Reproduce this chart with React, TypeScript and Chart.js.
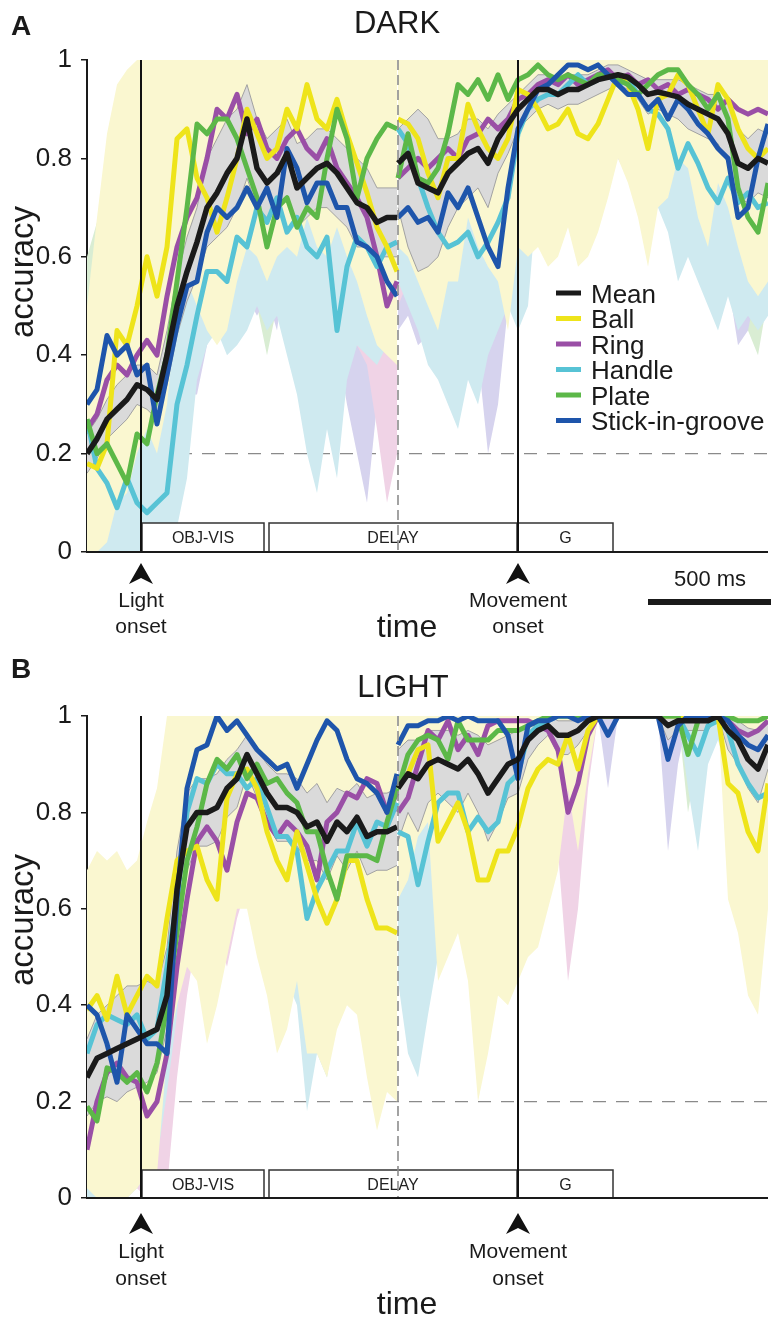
import React, { useEffect, useRef } from "react";
import { Chart, registerables } from "chart.js";
Chart.register(...registerables);

const FONT = '"Liberation Sans", Arial, Helvetica, sans-serif';

// ---------- time grid (ms) ----------
// light-aligned segment (relative to light onset)
const T_PRE = [-216,-176,-136,-96,-56,-16,24,64,104,144,184,224,264,304,344,384,424,464,504,544,584,624,664,704,744,784,824,864,904,944,984,1024];
// movement-aligned segment (relative to movement onset)
const T_POST = [-480,-440,-400,-360,-320,-280,-240,-200,-160,-120,-80,-40,0,40,80,120,160,200,240,280,320,360,400,440,480,520,560,600,640,680,720,760,800,840,880,920,960,1000];
const MOVE_POS = 1508;   // where movement onset sits on the shared axis
const BREAK_POS = 1028;  // alignment break (dashed line)
const X_MIN = -216;
const X_MAX = 2508;
const CHANCE = 0.2;
const Y_TICKS = [0, 0.2, 0.4, 0.6, 0.8, 1];

const EPOCHS = [
  { label: "OBJ-VIS", from: 4, to: 492 },
  { label: "DELAY", from: 512, to: 1504 },
  { label: "G", from: 1508, to: 1888 },
];

const SERIES_NAMES = ["Mean", "Ball", "Ring", "Handle", "Plate", "Stick-in-groove"];
const LINE_COLORS = ["#1a1a1a", "#eee41a", "#9a4fa6", "#57c3d5", "#5cb848", "#1e55ab"];
const BAND_COLORS = ["#dadada", "#faf7d0", "#f0d3e6", "#cfeaf0", "#d9edd3", "#d6d3ee"];
const LINE_ORDER = [1, 4, 6, 5, 3, 2];
const BAND_ORDER = [20, 30, 32, 31, 34, 33];

// ================= DARK =================
const DARK_MEAN_PRE = [0.20,0.23,0.27,0.29,0.31,0.34,0.33,0.31,0.40,0.50,0.57,0.63,0.70,0.73,0.77,0.80,0.88,0.78,0.75,0.77,0.81,0.74,0.76,0.78,0.79,0.77,0.74,0.71,0.70,0.67,0.68,0.68];
const DARK_MEAN_POST = [0.79,0.81,0.75,0.74,0.73,0.77,0.79,0.81,0.82,0.79,0.84,0.87,0.90,0.92,0.94,0.94,0.93,0.94,0.94,0.95,0.96,0.965,0.97,0.965,0.95,0.93,0.935,0.93,0.925,0.91,0.90,0.89,0.88,0.85,0.79,0.78,0.80,0.79];
const DARK_MEAN_HI_PRE = [0.24,0.27,0.31,0.34,0.36,0.38,0.38,0.36,0.45,0.56,0.64,0.70,0.80,0.84,0.88,0.90,0.95,0.88,0.84,0.86,0.88,0.83,0.84,0.86,0.86,0.84,0.82,0.80,0.78,0.74,0.74,0.74];
const DARK_MEAN_LO_PRE = [0.16,0.19,0.23,0.25,0.27,0.30,0.29,0.27,0.34,0.44,0.51,0.56,0.62,0.64,0.66,0.70,0.76,0.70,0.68,0.70,0.72,0.66,0.68,0.70,0.70,0.68,0.66,0.62,0.62,0.60,0.60,0.60];
const DARK_MEAN_HI_POST = [0.86,0.88,0.90,0.88,0.84,0.84,0.85,0.88,0.88,0.86,0.89,0.91,0.93,0.95,0.97,0.97,0.96,0.97,0.97,0.97,0.98,0.99,0.99,0.98,0.97,0.96,0.96,0.96,0.96,0.95,0.94,0.93,0.93,0.91,0.86,0.84,0.86,0.85];
const DARK_MEAN_LO_POST = [0.70,0.62,0.57,0.58,0.60,0.66,0.70,0.72,0.74,0.70,0.77,0.81,0.86,0.88,0.90,0.91,0.90,0.91,0.91,0.92,0.93,0.94,0.95,0.94,0.92,0.89,0.90,0.89,0.88,0.86,0.85,0.84,0.83,0.79,0.72,0.71,0.73,0.72];

const DARK_BALL_PRE = [0.18,0.17,0.22,0.45,0.42,0.50,0.60,0.52,0.62,0.84,0.86,0.76,0.72,0.65,0.72,0.80,0.90,0.85,0.80,0.82,0.90,0.86,0.95,0.88,0.86,0.92,0.85,0.79,0.73,0.66,0.62,0.57];
const DARK_BALL_POST = [0.88,0.87,0.84,0.77,0.72,0.80,0.80,0.91,0.86,0.82,0.80,0.84,0.94,0.93,0.90,0.86,0.87,0.90,0.85,0.84,0.87,0.92,0.97,0.95,0.90,0.82,0.92,0.93,0.97,0.95,0.90,0.85,0.95,0.92,0.86,0.82,0.80,0.82];
const DARK_RING_PRE = [0.25,0.28,0.35,0.38,0.36,0.40,0.43,0.40,0.52,0.62,0.68,0.72,0.80,0.90,0.88,0.93,0.85,0.88,0.82,0.80,0.84,0.86,0.82,0.80,0.84,0.78,0.75,0.72,0.68,0.60,0.50,0.55];
const DARK_RING_POST = [0.76,0.78,0.80,0.78,0.80,0.82,0.80,0.84,0.85,0.88,0.86,0.88,0.92,0.93,0.95,0.96,0.95,0.97,0.95,0.96,0.97,0.98,0.96,0.97,0.95,0.96,0.94,0.95,0.93,0.94,0.93,0.92,0.90,0.92,0.90,0.89,0.90,0.89];
const DARK_HANDLE_PRE = [0.27,0.17,0.14,0.09,0.15,0.10,0.08,0.10,0.12,0.30,0.38,0.48,0.57,0.57,0.55,0.64,0.62,0.70,0.67,0.72,0.65,0.68,0.62,0.60,0.64,0.45,0.58,0.64,0.62,0.58,0.62,0.63];
const DARK_HANDLE_POST = [0.86,0.83,0.76,0.70,0.65,0.62,0.63,0.65,0.60,0.63,0.67,0.72,0.85,0.90,0.92,0.93,0.93,0.95,0.97,0.95,0.96,0.97,0.95,0.96,0.93,0.90,0.89,0.86,0.78,0.83,0.79,0.74,0.71,0.76,0.71,0.73,0.70,0.71];
const DARK_PLATE_PRE = [0.27,0.20,0.22,0.18,0.14,0.24,0.22,0.32,0.40,0.55,0.70,0.87,0.85,0.88,0.88,0.84,0.78,0.72,0.62,0.70,0.72,0.66,0.70,0.68,0.80,0.90,0.84,0.72,0.80,0.84,0.87,0.86];
const DARK_PLATE_POST = [0.76,0.85,0.76,0.75,0.78,0.85,0.95,0.93,0.96,0.92,0.97,0.92,0.96,0.97,0.99,0.97,0.96,0.97,0.96,0.95,0.97,0.97,0.96,0.95,0.93,0.95,0.97,0.98,0.98,0.95,0.93,0.90,0.93,0.88,0.74,0.68,0.65,0.75];
const DARK_STICK_PRE = [0.30,0.33,0.44,0.40,0.42,0.36,0.38,0.26,0.36,0.46,0.54,0.55,0.65,0.70,0.68,0.70,0.74,0.70,0.74,0.68,0.82,0.78,0.71,0.75,0.75,0.70,0.70,0.63,0.62,0.60,0.55,0.52];
const DARK_STICK_POST = [0.68,0.70,0.67,0.68,0.65,0.73,0.70,0.74,0.68,0.62,0.58,0.74,0.86,0.90,0.94,0.95,0.97,0.99,0.99,0.98,0.99,0.97,0.95,0.93,0.93,0.90,0.92,0.88,0.92,0.90,0.87,0.85,0.82,0.80,0.68,0.70,0.80,0.87];

const DARK_BALL_HI_PRE = [0.50,0.68,0.85,0.95,0.98,1,1,1,1,1,1,1,1,1,1,1,1,1,1,1,1,1,1,1,1,1,1,1,1,1,1,1];
const DARK_BALL_LO_PRE = [0.00,0.00,0.02,0.10,0.12,0.20,0.25,0.20,0.30,0.50,0.55,0.50,0.45,0.42,0.45,0.55,0.62,0.60,0.55,0.60,0.62,0.60,0.68,0.62,0.60,0.66,0.60,0.55,0.48,0.42,0.40,0.38];
const DARK_BALL_HI_POST = [1,1,1,1,1,1,1,1,1,1,1,1,1,1,1,1,1,1,1,1,1,1,1,1,1,1,1,1,1,1,1,1,1,1,1,1,1,1];
const DARK_BALL_LO_POST = [0.62,0.60,0.55,0.50,0.45,0.55,0.55,0.68,0.62,0.58,0.55,0.45,0.62,0.60,0.62,0.58,0.60,0.66,0.58,0.60,0.65,0.72,0.80,0.75,0.68,0.58,0.70,0.72,0.80,0.78,0.68,0.62,0.75,0.70,0.62,0.55,0.52,0.55];
const DARK_RING_HI_PRE = [0.40,0.55,0.70,0.80,0.70,0.65,0.70,0.70,0.80,0.90,0.95,1,1,1,1,1,1,1,1,1,1,1,1,1,1,1,1,1,1,1,1,1];
const DARK_RING_LO_PRE = [0.10,0.12,0.18,0.20,0.20,0.22,0.25,0.20,0.30,0.38,0.45,0.50,0.58,0.68,0.65,0.72,0.62,0.65,0.58,0.55,0.60,0.62,0.55,0.48,0.55,0.50,0.45,0.42,0.38,0.25,0.10,0.20];
const DARK_RING_HI_POST = [1,1,1,1,1,1,1,1,1,1,1,1,1,1,1,1,1,1,1,1,1,1,1,1,1,1,1,1,1,1,1,1,1,1,1,1,1,1];
const DARK_RING_LO_POST = [0.50,0.55,0.58,0.55,0.58,0.60,0.55,0.62,0.65,0.70,0.65,0.68,0.75,0.80,0.85,0.87,0.85,0.90,0.85,0.87,0.90,0.92,0.88,0.90,0.86,0.88,0.84,0.86,0.82,0.84,0.83,0.80,0.76,0.80,0.76,0.75,0.77,0.75];
const DARK_HANDLE_HI_PRE = [0.50,0.42,0.38,0.32,0.38,0.35,0.32,0.35,0.38,0.58,0.70,0.80,0.85,0.85,0.82,0.90,0.88,0.95,0.92,0.97,0.90,0.93,0.88,0.86,0.90,0.72,0.85,0.90,0.88,0.85,0.88,0.90];
const DARK_HANDLE_LO_PRE = [0.05,0.00,0.00,0.00,0.00,0.00,0.00,0.00,0.00,0.05,0.15,0.35,0.42,0.45,0.40,0.42,0.45,0.50,0.45,0.48,0.40,0.32,0.20,0.12,0.25,0.15,0.35,0.42,0.40,0.38,0.42,0.45];
const DARK_HANDLE_HI_POST = [1,1,1,1,1,1,1,1,1,1,1,1,1,1,1,1,1,1,1,1,1,1,1,1,1,1,1,1,1,1,1,1,1,1,1,1,1,1];
const DARK_HANDLE_LO_POST = [0.55,0.50,0.45,0.38,0.35,0.30,0.25,0.35,0.30,0.40,0.45,0.50,0.45,0.50,0.75,0.78,0.80,0.82,0.85,0.82,0.84,0.86,0.82,0.84,0.78,0.72,0.70,0.65,0.55,0.60,0.55,0.50,0.45,0.52,0.45,0.48,0.45,0.48];
const DARK_PLATE_HI_PRE = [0.60,0.67,0.55,0.50,0.45,0.50,0.48,0.55,0.62,0.78,0.88,0.98,0.98,1,1,0.98,0.95,0.92,0.85,0.90,0.92,0.88,0.90,0.88,0.95,1,0.98,0.90,0.95,0.98,1,1];
const DARK_PLATE_LO_PRE = [0.05,0.00,0.00,0.00,0.00,0.02,0.02,0.10,0.18,0.32,0.45,0.68,0.65,0.68,0.70,0.65,0.58,0.50,0.40,0.50,0.52,0.45,0.48,0.45,0.60,0.72,0.65,0.50,0.60,0.66,0.70,0.68];
const DARK_PLATE_HI_POST = [1,1,1,1,1,1,1,1,1,1,1,1,1,1,1,1,1,1,1,1,1,1,1,1,1,1,1,1,1,1,1,1,1,1,1,1,1,1];
const DARK_PLATE_LO_POST = [0.55,0.65,0.55,0.52,0.58,0.68,0.82,0.80,0.85,0.78,0.88,0.80,0.88,0.90,0.94,0.90,0.88,0.90,0.88,0.87,0.90,0.90,0.88,0.87,0.84,0.87,0.90,0.92,0.92,0.87,0.84,0.78,0.82,0.75,0.55,0.45,0.40,0.52];
const DARK_STICK_HI_PRE = [0.45,0.55,0.78,0.86,0.80,0.60,0.62,0.50,0.60,0.68,0.75,0.78,0.85,0.90,0.88,0.90,0.92,0.90,0.92,0.88,0.97,0.95,0.90,0.92,0.92,0.88,0.90,0.85,0.85,0.82,0.80,0.78];
const DARK_STICK_LO_PRE = [0.15,0.15,0.20,0.15,0.20,0.15,0.18,0.08,0.15,0.25,0.32,0.32,0.42,0.48,0.45,0.48,0.52,0.48,0.52,0.45,0.60,0.55,0.48,0.50,0.50,0.42,0.30,0.20,0.10,0.30,0.30,0.28];
const DARK_STICK_HI_POST = [0.90,0.92,0.90,0.90,0.88,0.94,0.92,0.95,0.90,0.85,0.82,0.93,1,1,1,1,1,1,1,1,1,1,1,1,1,1,1,1,1,1,1,1,1,1,1,1,1,1];
const DARK_STICK_LO_POST = [0.45,0.48,0.42,0.44,0.40,0.50,0.45,0.50,0.40,0.20,0.30,0.50,0.68,0.72,0.78,0.80,0.85,0.90,0.90,0.88,0.90,0.86,0.80,0.76,0.78,0.72,0.75,0.68,0.75,0.70,0.65,0.62,0.58,0.55,0.42,0.45,0.55,0.65];

// ================= LIGHT =================
const LIGHT_MEAN_PRE = [0.25,0.29,0.30,0.31,0.32,0.33,0.34,0.35,0.42,0.64,0.77,0.80,0.80,0.81,0.85,0.87,0.92,0.88,0.84,0.81,0.81,0.80,0.77,0.78,0.74,0.78,0.76,0.79,0.75,0.76,0.76,0.77];
const LIGHT_MEAN_POST = [0.85,0.88,0.87,0.90,0.91,0.90,0.89,0.91,0.88,0.84,0.87,0.90,0.91,0.95,0.97,0.98,0.96,0.96,0.97,0.99,1,1,1,1,1,1,1,0.98,0.99,0.99,0.99,0.99,1,0.97,0.95,0.91,0.89,0.94];
const LIGHT_MEAN_HI_PRE = [0.33,0.38,0.40,0.42,0.44,0.44,0.45,0.44,0.52,0.72,0.84,0.87,0.87,0.88,0.91,0.93,0.96,0.93,0.90,0.88,0.88,0.87,0.84,0.86,0.82,0.85,0.84,0.86,0.83,0.84,0.84,0.85];
const LIGHT_MEAN_LO_PRE = [0.17,0.20,0.21,0.20,0.22,0.23,0.24,0.26,0.35,0.56,0.68,0.73,0.73,0.74,0.79,0.81,0.88,0.83,0.78,0.74,0.74,0.73,0.70,0.70,0.66,0.71,0.68,0.72,0.67,0.68,0.68,0.69];
const LIGHT_MEAN_HI_POST = [0.93,0.95,0.95,0.97,0.97,0.97,0.96,0.97,0.96,0.94,0.95,0.96,0.97,0.98,0.99,1,0.99,0.99,0.99,1,1,1,1,1,1,1,1,1,1,1,1,1,1,0.995,0.99,0.975,0.97,0.985];
const LIGHT_MEAN_LO_POST = [0.74,0.80,0.76,0.82,0.84,0.82,0.80,0.84,0.80,0.74,0.78,0.83,0.84,0.91,0.94,0.96,0.92,0.92,0.94,0.97,1,1,1,1,1,1,1,0.95,0.97,0.97,0.97,0.97,1,0.93,0.90,0.85,0.82,0.89];

const LIGHT_BALL_PRE = [0.39,0.42,0.37,0.46,0.38,0.42,0.46,0.44,0.58,0.70,0.72,0.73,0.66,0.62,0.83,0.88,0.89,0.85,0.76,0.70,0.66,0.76,0.69,0.62,0.57,0.62,0.70,0.70,0.62,0.56,0.56,0.55];
const LIGHT_BALL_POST = [0.86,0.88,0.93,0.94,0.74,0.78,0.82,0.76,0.66,0.66,0.72,0.72,0.77,0.85,0.89,0.91,0.90,0.96,0.89,0.97,1,1,1,1,1,1,1,1,1,1,1,1,1,0.86,0.84,0.76,0.72,0.86];
const LIGHT_RING_PRE = [0.10,0.20,0.26,0.28,0.25,0.24,0.17,0.20,0.30,0.48,0.62,0.74,0.77,0.74,0.68,0.78,0.84,0.83,0.78,0.75,0.78,0.76,0.73,0.66,0.78,0.80,0.84,0.83,0.87,0.86,0.80,0.84];
const LIGHT_RING_POST = [0.80,0.83,0.90,0.97,0.95,0.99,0.93,0.96,0.92,0.98,0.99,0.99,0.99,0.99,0.98,0.97,0.93,0.80,0.86,0.96,1,1,1,1,1,1,1,1,1,1,1,1,1,0.99,0.97,0.96,0.97,0.99];
const LIGHT_HANDLE_PRE = [0.30,0.36,0.38,0.37,0.36,0.38,0.33,0.35,0.48,0.62,0.80,0.87,0.86,0.90,0.88,0.88,0.85,0.87,0.81,0.75,0.75,0.72,0.58,0.64,0.68,0.72,0.72,0.78,0.73,0.78,0.77,0.82];
const LIGHT_HANDLE_POST = [0.76,0.75,0.65,0.74,0.82,0.84,0.84,0.76,0.79,0.76,0.78,0.86,0.88,0.96,0.98,0.99,1,1,1,1,1,1,1,1,1,1,1,1,1,0.96,0.92,0.98,0.99,0.97,0.90,0.86,0.83,0.84];
const LIGHT_PLATE_PRE = [0.19,0.16,0.27,0.26,0.24,0.26,0.22,0.28,0.40,0.55,0.70,0.77,0.86,0.91,0.89,0.92,0.87,0.90,0.86,0.87,0.84,0.82,0.76,0.76,0.68,0.62,0.71,0.71,0.71,0.70,0.78,0.85];
const LIGHT_PLATE_POST = [0.85,0.92,0.95,0.96,0.95,0.91,0.99,0.95,0.95,0.95,0.97,0.97,0.97,0.98,0.99,1,1,1,1,1,1,1,1,1,1,1,1,1,1,0.92,0.99,1,1,1,0.99,0.99,0.99,1];
const LIGHT_STICK_PRE = [0.40,0.38,0.32,0.24,0.38,0.35,0.32,0.32,0.30,0.62,0.85,0.93,0.94,1.0,0.97,0.99,0.96,0.93,0.91,0.89,0.90,0.85,0.90,0.95,0.99,0.97,0.91,0.87,0.86,0.84,0.80,0.88];
const LIGHT_STICK_POST = [0.94,0.98,0.98,0.99,0.99,1,0.99,1,0.99,0.99,0.99,0.96,0.87,0.98,0.99,0.99,1,1,0.99,1,1,0.96,1,1,1,1,1,0.91,0.98,1,1,1,1,0.99,0.96,0.94,0.93,0.96];

const LIGHT_BALL_HI_PRE = [0.68,0.72,0.70,0.72,0.68,0.70,0.78,0.85,1,1,1,1,1,1,1,1,1,1,1,1,1,1,1,1,1,1,1,1,1,1,1,1];
const LIGHT_BALL_LO_PRE = [0.02,0.00,0.00,0.00,0.00,0.02,0.05,0.05,0.30,0.40,0.48,0.45,0.32,0.40,0.50,0.60,0.60,0.50,0.42,0.30,0.35,0.45,0.30,0.30,0.25,0.35,0.40,0.38,0.25,0.14,0.22,0.20];
const LIGHT_BALL_HI_POST = [1,1,1,1,1,1,1,1,1,1,1,1,1,1,1,1,1,1,1,1,1,1,1,1,1,1,1,1,1,1,1,1,1,1,1,1,1,1];
const LIGHT_BALL_LO_POST = [0.62,0.66,0.75,0.78,0.45,0.50,0.55,0.45,0.20,0.30,0.42,0.40,0.45,0.50,0.52,0.60,0.68,0.85,0.72,0.88,1,1,1,1,1,1,1,1,1,1,1,1,1,0.62,0.55,0.42,0.38,0.60];
const LIGHT_RING_HI_PRE = [0.30,0.40,0.45,0.48,0.45,0.42,0.35,0.40,0.52,0.70,0.82,0.92,0.95,0.92,0.88,0.95,1,1,1,1,1,1,1,1,1,1,1,1,1,1,1,1];
const LIGHT_RING_LO_PRE = [0.00,0.05,0.10,0.10,0.08,0.02,0.00,0.00,0.02,0.25,0.42,0.55,0.58,0.55,0.48,0.58,0.65,0.62,0.58,0.55,0.60,0.55,0.52,0.45,0.58,0.60,0.65,0.62,0.68,0.66,0.60,0.65];
const LIGHT_RING_HI_POST = [1,1,1,1,1,1,1,1,1,1,1,1,1,1,1,1,1,1,1,1,1,1,1,1,1,1,1,1,1,1,1,1,1,1,1,1,1,1];
const LIGHT_RING_LO_POST = [0.60,0.62,0.72,0.85,0.82,0.90,0.80,0.85,0.78,0.88,0.92,0.92,0.92,0.90,0.88,0.85,0.72,0.45,0.60,0.85,1,1,1,1,1,1,1,1,1,1,1,1,1,0.95,0.90,0.88,0.90,0.95];
const LIGHT_HANDLE_HI_PRE = [0.60,0.70,0.68,0.65,0.62,0.65,0.55,0.60,0.72,0.85,0.98,1,1,1,1,1,1,1,1,1,1,1,1,1,1,1,1,1,1,1,1,1];
const LIGHT_HANDLE_LO_PRE = [0.00,0.00,0.00,0.00,0.00,0.02,0.05,0.08,0.22,0.38,0.58,0.68,0.65,0.70,0.66,0.68,0.62,0.65,0.55,0.48,0.45,0.40,0.18,0.30,0.25,0.38,0.42,0.50,0.45,0.52,0.50,0.55];
const LIGHT_HANDLE_HI_POST = [1,1,1,1,1,1,1,1,1,1,1,1,1,1,1,1,1,1,1,1,1,1,1,1,1,1,1,1,1,1,1,1,1,1,1,1,1,1];
const LIGHT_HANDLE_LO_POST = [0.45,0.30,0.25,0.38,0.50,0.55,0.58,0.50,0.55,0.50,0.55,0.65,0.70,0.85,0.90,0.95,1,1,1,1,1,1,1,1,1,1,1,1,1,0.85,0.72,0.90,0.95,0.88,0.75,0.65,0.62,0.60];
const LIGHT_PLATE_HI_PRE = [0.45,0.42,0.50,0.50,0.48,0.50,0.45,0.50,0.62,0.75,0.88,0.95,1,1,1,1,1,1,1,1,1,1,0.95,0.95,0.90,0.85,0.92,0.92,0.92,0.90,0.95,1];
const LIGHT_PLATE_LO_PRE = [0.00,0.00,0.05,0.05,0.05,0.05,0.02,0.08,0.20,0.35,0.50,0.58,0.68,0.75,0.72,0.78,0.70,0.75,0.70,0.72,0.68,0.65,0.55,0.55,0.45,0.40,0.50,0.50,0.50,0.48,0.58,0.65];
const LIGHT_PLATE_HI_POST = [1,1,1,1,1,1,1,1,1,1,1,1,1,1,1,1,1,1,1,1,1,1,1,1,1,1,1,1,1,1,1,1,1,1,1,1,1,1];
const LIGHT_PLATE_LO_POST = [0.62,0.75,0.82,0.85,0.82,0.75,0.92,0.85,0.85,0.85,0.90,0.90,0.90,0.92,0.95,1,1,1,1,1,1,1,1,1,1,1,1,1,1,0.80,0.92,1,1,1,0.95,0.95,0.95,1];
const LIGHT_STICK_HI_PRE = [0.60,0.58,0.52,0.45,0.58,0.55,0.52,0.52,0.50,0.80,0.95,1,1,1,1,1,1,1,1,1,1,1,1,1,1,1,1,1,1,1,1,1];
const LIGHT_STICK_LO_PRE = [0.20,0.18,0.12,0.05,0.18,0.15,0.12,0.12,0.12,0.42,0.65,0.80,0.82,0.90,0.85,0.88,0.85,0.80,0.78,0.75,0.76,0.70,0.76,0.85,0.90,0.86,0.78,0.72,0.70,0.68,0.62,0.72];
const LIGHT_STICK_HI_POST = [1,1,1,1,1,1,1,1,1,1,1,1,1,1,1,1,1,1,1,1,1,1,1,1,1,1,1,1,1,1,1,1,1,1,1,1,1,1];
const LIGHT_STICK_LO_POST = [0.82,0.90,0.90,0.92,0.92,0.82,0.92,0.95,0.92,0.92,0.92,0.85,0.70,0.90,0.95,0.95,1,1,0.95,1,1,0.85,1,1,1,1,1,0.72,0.90,1,1,1,1,0.95,0.88,0.85,0.82,0.88];

// ---------- panel definitions ----------
const DARK_PANEL = {
  letter: "A", title: "DARK", letterY: 35, titleX: 397, titleY: 33, yLabelY: 272,
  top: 60, bottom: 552, boxH: 29, boxTextY: 543,
  arrowTip: 563, label1Y: 607, label2Y: 633, timeY: 637, legend: true, scaleBar: true,
  lines: [
    [DARK_MEAN_PRE, DARK_MEAN_POST], [DARK_BALL_PRE, DARK_BALL_POST], [DARK_RING_PRE, DARK_RING_POST],
    [DARK_HANDLE_PRE, DARK_HANDLE_POST], [DARK_PLATE_PRE, DARK_PLATE_POST], [DARK_STICK_PRE, DARK_STICK_POST],
  ],
  bands: [
    [DARK_MEAN_LO_PRE, DARK_MEAN_HI_PRE, DARK_MEAN_LO_POST, DARK_MEAN_HI_POST],
    [DARK_BALL_LO_PRE, DARK_BALL_HI_PRE, DARK_BALL_LO_POST, DARK_BALL_HI_POST],
    [DARK_RING_LO_PRE, DARK_RING_HI_PRE, DARK_RING_LO_POST, DARK_RING_HI_POST],
    [DARK_HANDLE_LO_PRE, DARK_HANDLE_HI_PRE, DARK_HANDLE_LO_POST, DARK_HANDLE_HI_POST],
    [DARK_PLATE_LO_PRE, DARK_PLATE_HI_PRE, DARK_PLATE_LO_POST, DARK_PLATE_HI_POST],
    [DARK_STICK_LO_PRE, DARK_STICK_HI_PRE, DARK_STICK_LO_POST, DARK_STICK_HI_POST],
  ],
};

const LIGHT_PANEL = {
  letter: "B", title: "LIGHT", letterY: 19, titleX: 403, titleY: 38, yLabelY: 261,
  top: 57, bottom: 539, boxH: 28, boxTextY: 531,
  arrowTip: 554, label1Y: 599, label2Y: 626, timeY: 655, legend: false, scaleBar: false,
  lines: [
    [LIGHT_MEAN_PRE, LIGHT_MEAN_POST], [LIGHT_BALL_PRE, LIGHT_BALL_POST], [LIGHT_RING_PRE, LIGHT_RING_POST],
    [LIGHT_HANDLE_PRE, LIGHT_HANDLE_POST], [LIGHT_PLATE_PRE, LIGHT_PLATE_POST], [LIGHT_STICK_PRE, LIGHT_STICK_POST],
  ],
  bands: [
    [LIGHT_MEAN_LO_PRE, LIGHT_MEAN_HI_PRE, LIGHT_MEAN_LO_POST, LIGHT_MEAN_HI_POST],
    [LIGHT_BALL_LO_PRE, LIGHT_BALL_HI_PRE, LIGHT_BALL_LO_POST, LIGHT_BALL_HI_POST],
    [LIGHT_RING_LO_PRE, LIGHT_RING_HI_PRE, LIGHT_RING_LO_POST, LIGHT_RING_HI_POST],
    [LIGHT_HANDLE_LO_PRE, LIGHT_HANDLE_HI_PRE, LIGHT_HANDLE_LO_POST, LIGHT_HANDLE_HI_POST],
    [LIGHT_PLATE_LO_PRE, LIGHT_PLATE_HI_PRE, LIGHT_PLATE_LO_POST, LIGHT_PLATE_HI_POST],
    [LIGHT_STICK_LO_PRE, LIGHT_STICK_HI_PRE, LIGHT_STICK_LO_POST, LIGHT_STICK_HI_POST],
  ],
};

const CANVAS_W = 771;
const CANVAS_H = 659;
const AXIS_LEFT = 87;

function toPts(vals: number[], post: boolean) {
  return vals.map((y, i) => ({ x: post ? MOVE_POS + T_POST[i] : T_PRE[i], y }));
}

function buildDatasets(p: any) {
  const ds: any[] = [];
  const addBand = (lo: number[], hi: number[], post: boolean, i: number) => {
    const isMean = i === 0;
    const edge = isMean ? "#a2a2a2" : "rgba(0,0,0,0)";
    const order = BAND_ORDER[i];
    const loIdx = ds.length;
    ds.push({ data: toPts(lo, post), borderColor: edge, borderWidth: isMean ? 1 : 0, pointRadius: 0, fill: false, order });
    ds.push({ data: toPts(hi, post), borderColor: edge, borderWidth: isMean ? 1 : 0, pointRadius: 0, fill: loIdx, backgroundColor: BAND_COLORS[i], order });
  };
  for (let i = 1; i < p.bands.length; i++) {
    const [loPre, hiPre, loPost, hiPost] = p.bands[i];
    addBand(loPre, hiPre, false, i);
    addBand(loPost, hiPost, true, i);
  }
  {
    const [loPre, hiPre, loPost, hiPost] = p.bands[0];
    addBand(loPre, hiPre, false, 0);
    addBand(loPost, hiPost, true, 0);
  }
  p.lines.forEach((pair: number[][], i: number) => {
    [false, true].forEach((post, s) => {
      ds.push({
        data: toPts(pair[s], post),
        borderColor: LINE_COLORS[i],
        borderWidth: i === 0 ? 5.5 : 5,
        borderJoinStyle: "round",
        pointRadius: 0,
        fill: false,
        order: LINE_ORDER[i],
      });
    });
  });
  return ds;
}

function drawArrow(ctx: CanvasRenderingContext2D, x: number, tip: number) {
  ctx.beginPath();
  ctx.moveTo(x, tip);
  ctx.lineTo(x + 12, tip + 21);
  ctx.lineTo(x, tip + 15);
  ctx.lineTo(x - 12, tip + 21);
  ctx.closePath();
  ctx.fillStyle = "#111";
  ctx.fill();
}

function annotations(p: any) {
  return {
    id: "annot" + p.letter,
    beforeDatasetsDraw(chart: any) {
      const { ctx, chartArea: a, scales } = chart;
      const y = scales.y;
      ctx.save();
      const yc = y.getPixelForValue(CHANCE);
      ctx.strokeStyle = "#8a8a8a";
      ctx.lineWidth = 1.2;
      ctx.setLineDash([13, 10]);
      ctx.beginPath(); ctx.moveTo(a.left, yc); ctx.lineTo(a.right, yc); ctx.stroke();
      ctx.setLineDash([]);
      ctx.restore();
    },
    afterDatasetsDraw(chart: any) {
      const { ctx, chartArea: a, scales } = chart;
      const x = scales.x;
      ctx.save();
      EPOCHS.forEach((e) => {
        const x0 = x.getPixelForValue(e.from), x1 = x.getPixelForValue(e.to);
        ctx.fillStyle = "#fff";
        ctx.fillRect(x0, a.bottom - p.boxH, x1 - x0, p.boxH);
        ctx.strokeStyle = "#333";
        ctx.lineWidth = 1.5;
        ctx.strokeRect(x0, a.bottom - p.boxH, x1 - x0, p.boxH);
        ctx.fillStyle = "#222";
        ctx.font = `16px ${FONT}`;
        ctx.textAlign = "center";
        ctx.textBaseline = "alphabetic";
        ctx.fillText(e.label, (x0 + x1) / 2, p.boxTextY);
      });
      const xb = x.getPixelForValue(BREAK_POS);
      ctx.setLineDash([10, 5]);
      ctx.lineWidth = 1.6;
      ctx.strokeStyle = "#8c8c8c";
      ctx.beginPath(); ctx.moveTo(xb, a.top); ctx.lineTo(xb, a.bottom); ctx.stroke();
      ctx.setLineDash([]);
      ctx.strokeStyle = "#111";
      ctx.lineWidth = 2;
      [0, MOVE_POS].forEach((t) => {
        const xp = x.getPixelForValue(t);
        ctx.beginPath(); ctx.moveTo(xp, a.top); ctx.lineTo(xp, a.bottom); ctx.stroke();
      });
      ctx.strokeStyle = "#1a1a1a";
      ctx.lineWidth = 2;
      ctx.beginPath(); ctx.moveTo(a.left - 1, a.bottom); ctx.lineTo(a.right, a.bottom); ctx.stroke();
      ctx.restore();
    },
    afterDraw(chart: any) {
      const { ctx, scales } = chart;
      const x = scales.x;
      ctx.save();
      ctx.fillStyle = "#1a1a1a";
      ctx.textBaseline = "alphabetic";
      ctx.font = `bold 28px ${FONT}`;
      ctx.textAlign = "left";
      ctx.fillText(p.letter, 11, p.letterY);
      ctx.font = `31px ${FONT}`;
      ctx.textAlign = "center";
      ctx.fillText(p.title, p.titleX, p.titleY);
      ctx.save();
      ctx.translate(33, p.yLabelY);
      ctx.rotate(-Math.PI / 2);
      ctx.font = `33px ${FONT}`;
      ctx.textAlign = "center";
      ctx.fillText("accuracy", 0, 0);
      ctx.restore();
      const xl = x.getPixelForValue(0), xm = x.getPixelForValue(MOVE_POS);
      drawArrow(ctx, xl, p.arrowTip);
      drawArrow(ctx, xm, p.arrowTip);
      ctx.fillStyle = "#1a1a1a";
      ctx.font = `21px ${FONT}`;
      ctx.textAlign = "center";
      ctx.fillText("Light", xl, p.label1Y);
      ctx.fillText("onset", xl, p.label2Y);
      ctx.fillText("Movement", xm, p.label1Y);
      ctx.fillText("onset", xm, p.label2Y);
      ctx.font = `32px ${FONT}`;
      ctx.fillText("time", 407, p.timeY);
      if (p.scaleBar) {
        ctx.fillRect(648, 599, CANVAS_W - 648, 6);
        ctx.font = `22px ${FONT}`;
        ctx.fillText("500 ms", 710, 586);
      }
      if (p.legend) {
        ctx.textAlign = "left";
        ctx.font = `26px ${FONT}`;
        SERIES_NAMES.forEach((name, i) => {
          const cy = 293 + i * 25.5;
          ctx.fillStyle = LINE_COLORS[i];
          ctx.fillRect(556, cy - 2.5, 25, 5);
          ctx.fillStyle = "#1a1a1a";
          ctx.fillText(name, 591, cy + 9.5);
        });
      }
      ctx.restore();
    },
  };
}

function buildConfig(p: any): any {
  return {
    type: "line",
    data: { datasets: buildDatasets(p) },
    options: {
      responsive: false,
      animation: false,
      devicePixelRatio: 1,
      events: [],
      layout: { padding: { left: 0, right: CANVAS_W - 768, top: p.top, bottom: CANVAS_H - p.bottom } },
      plugins: { legend: { display: false }, tooltip: { enabled: false }, filler: { propagate: false } },
      elements: { line: { tension: 0 } },
      scales: {
        x: { type: "linear", min: X_MIN, max: X_MAX, display: false },
        y: {
          type: "linear",
          min: 0,
          max: 1,
          afterFit: (s: any) => { s.width = AXIS_LEFT; },
          afterBuildTicks: (s: any) => { s.ticks = Y_TICKS.map((v) => ({ value: v })); },
          ticks: {
            font: { family: FONT, size: 26 },
            color: "#1a1a1a",
            padding: 9,
            callback: (v: number) => String(Math.round(v * 10) / 10),
          },
          grid: { drawOnChartArea: false, drawTicks: true, tickLength: 6, color: "#1a1a1a", lineWidth: 1.5 },
          border: { color: "#1a1a1a", width: 2 },
        },
      },
    },
    plugins: [annotations(p)],
  };
}

function PanelChart({ panel }: { panel: any }) {
  const ref = useRef<HTMLCanvasElement>(null);
  useEffect(() => {
    const chart = new Chart(ref.current as HTMLCanvasElement, buildConfig(panel));
    return () => chart.destroy();
  }, [panel]);
  return <canvas ref={ref} width={CANVAS_W} height={CANVAS_H} style={{ display: "block", width: CANVAS_W, height: CANVAS_H }} />;
}

export default function App() {
  return (
    <div style={{ position: "absolute", left: 0, top: 0, width: CANVAS_W, height: 1318, background: "#fff", overflow: "hidden" }}>
      <PanelChart panel={DARK_PANEL} />
      <PanelChart panel={LIGHT_PANEL} />
    </div>
  );
}
